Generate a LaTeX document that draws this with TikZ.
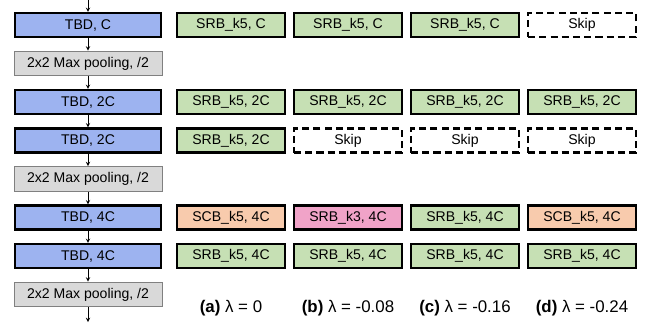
\documentclass[tikz,border=0pt]{standalone}
\usepackage{fontspec}
\setmainfont{Liberation Sans}
\definecolor{tbdblue}{RGB}{157,179,240}
\definecolor{srbgreen}{RGB}{198,224,180}
\definecolor{scborange}{RGB}{248,203,173}
\definecolor{srbpink}{RGB}{240,163,200}
\definecolor{poolgray}{RGB}{217,217,217}
\definecolor{poolline}{RGB}{128,128,128}
\begin{document}
\begin{tikzpicture}[auto, node distance=0.9625cm, >=stealth, font=\fontsize{10pt}{12pt}\selectfont]
\useasboundingbox (0,0) rectangle (16.25,-8.075);

% Styles
\tikzstyle{tbd}   = [draw, rectangle, line width=1.5pt, fill=tbdblue, minimum height=0.6cm, minimum width=3.65cm]
\tikzstyle{pool}  = [draw=poolline, rectangle, line width=0.7pt, fill=poolgray, minimum height=0.62cm, minimum width=3.7cm]
\tikzstyle{blk}   = [draw, rectangle, line width=1.5pt, minimum height=0.6cm, minimum width=2.7cm]
\tikzstyle{srb}   = [blk, fill=srbgreen]
\tikzstyle{scb}   = [blk, fill=scborange]
\tikzstyle{pink}  = [blk, fill=srbpink]
\tikzstyle{skip}  = [blk, dash pattern=on 5pt off 3pt]
\tikzstyle{caption} = [font=\fontsize{12pt}{14pt}\selectfont]

% Backbone
\coordinate (in) at (2.2,0);
\node [tbd] (tbd1) at (2.2,-0.625) {TBD, C};
\node [pool, below of=tbd1] (pool1) {2x2 Max pooling, /2};
\node [tbd, below of=pool1] (tbd2) {TBD, 2C};
\node [tbd, below of=tbd2] (tbd3) {TBD, 2C};
\node [pool, below of=tbd3] (pool2) {2x2 Max pooling, /2};
\node [tbd, below of=pool2] (tbd4) {TBD, 4C};
\node [tbd, below of=tbd4] (tbd5) {TBD, 4C};
\node [pool, below of=tbd5] (pool3) {2x2 Max pooling, /2};
\coordinate (out) at (2.2,-8.05);

% (a)
\node [srb, right of=tbd1, node distance=3.575cm] (a1) {SRB\_k5, C};
\node [srb, right of=tbd2, node distance=3.575cm] (a2) {SRB\_k5, 2C};
\node [srb, right of=tbd3, node distance=3.575cm] (a3) {SRB\_k5, 2C};
\node [scb, right of=tbd4, node distance=3.575cm] (a4) {SCB\_k5, 4C};
\node [srb, right of=tbd5, node distance=3.575cm] (a5) {SRB\_k5, 4C};

% (b)
\node [srb, right of=a1, node distance=2.925cm] (b1) {SRB\_k5, C};
\node [srb, right of=a2, node distance=2.925cm] (b2) {SRB\_k5, 2C};
\node [skip, right of=a3, node distance=2.925cm] (b3) {Skip};
\node [pink, right of=a4, node distance=2.925cm] (b4) {SRB\_k3, 4C};
\node [srb, right of=a5, node distance=2.925cm] (b5) {SRB\_k5, 4C};

% (c)
\node [srb, right of=b1, node distance=2.925cm] (c1) {SRB\_k5, C};
\node [srb, right of=b2, node distance=2.925cm] (c2) {SRB\_k5, 2C};
\node [skip, right of=b3, node distance=2.925cm] (c3) {Skip};
\node [srb, right of=b4, node distance=2.925cm] (c4) {SRB\_k5, 4C};
\node [srb, right of=b5, node distance=2.925cm] (c5) {SRB\_k5, 4C};

% (d)
\node [skip, right of=c1, node distance=2.925cm] (d1) {Skip};
\node [srb, right of=c2, node distance=2.925cm] (d2) {SRB\_k5, 2C};
\node [skip, right of=c3, node distance=2.925cm] (d3) {Skip};
\node [scb, right of=c4, node distance=2.925cm] (d4) {SCB\_k5, 4C};
\node [srb, right of=c5, node distance=2.925cm] (d5) {SRB\_k5, 4C};

% Captions
\node [caption, below of=a5, node distance=1.3cm] (capa) {\textbf{(a)} λ = 0};
\node [caption, below of=b5, node distance=1.3cm] (capb) {\textbf{(b)} λ = -0.08};
\node [caption, below of=c5, node distance=1.3cm] (capc) {\textbf{(c)} λ = -0.16};
\node [caption, below of=d5, node distance=1.3cm] (capd) {\textbf{(d)} λ = -0.24};

% Connections
\draw [->] (in) -- (tbd1);
\draw [->] (tbd1) -- (pool1);
\draw [->] (pool1) -- (tbd2);
\draw [->] (tbd2) -- (tbd3);
\draw [->] (tbd3) -- (pool2);
\draw [->] (pool2) -- (tbd4);
\draw [->] (tbd4) -- (tbd5);
\draw [->] (tbd5) -- (pool3);
\draw [->] (pool3) -- (out);

\end{tikzpicture}
\end{document}
